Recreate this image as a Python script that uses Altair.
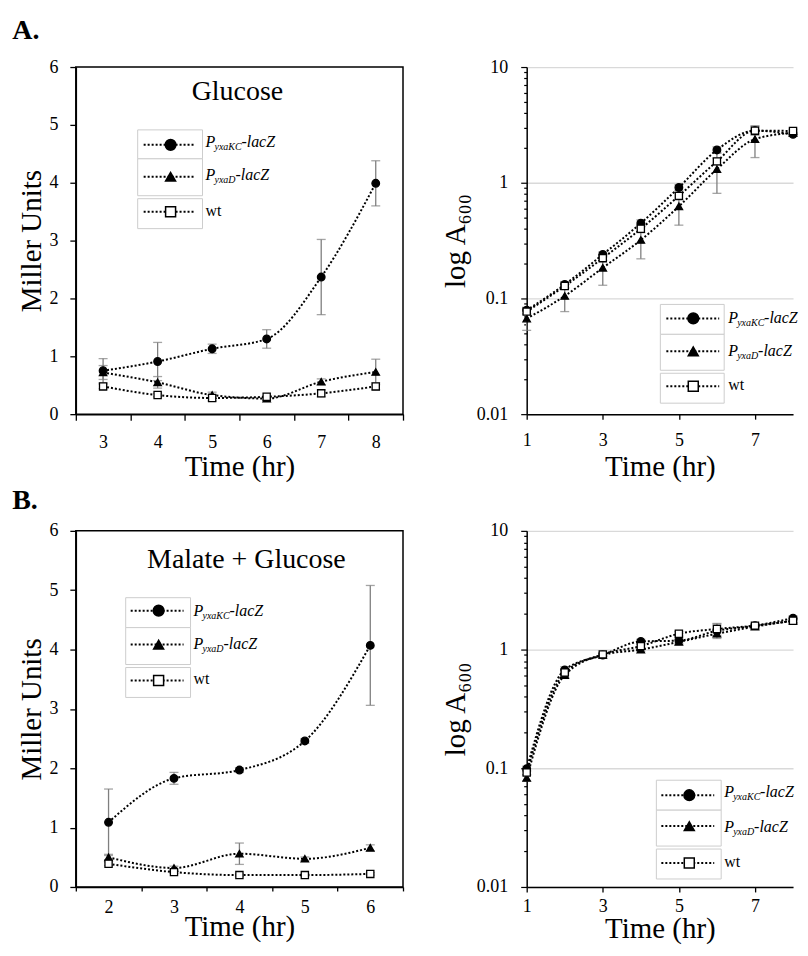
import altair as alt
import pandas as pd

FONT = "Liberation Serif, Times New Roman, serif"
ERR_COLOR = "#7f7f7f"
BOX_COLOR = "#cdcdcd"
GRID_COLOR = "#d9d9d9"

SERIES = ["KC", "D", "wt"]
SHAPES = ["circle", "triangle-up", "square"]
FILLS = ["black", "black", "white"]
SIZES = [58, 52, 55]

# ---------------- data ----------------
# A. Glucose, Miller units
A1_time = [3, 4, 5, 6, 7, 8]
A1_kc = [0.75, 0.91, 1.13, 1.30, 2.37, 3.99]
A1_kc_err = [0.21, 0.33, 0.08, 0.16, 0.65, 0.39]
A1_d = [0.72, 0.55, 0.33, 0.27, 0.56, 0.73]
A1_d_err = [0.12, 0.10, 0.05, 0.03, 0.05, 0.22]
A1_wt = [0.48, 0.33, 0.28, 0.30, 0.36, 0.48]
A1_wt_err = [0.04, 0.03, 0.05, 0.02, 0.06, 0.06]

# A. growth, A600
A2_time = [1, 2, 3, 4, 5, 6, 7, 8]
A2_kc = [0.079, 0.132, 0.24, 0.447, 0.91, 1.92, 2.82, 2.62]
A2_kc_err = [0.005, 0.008, 0.012, 0.03, 0.05, 0.12, 0.15, 0.10]
A2_d = [0.067, 0.105, 0.184, 0.32, 0.625, 1.31, 2.38, 2.70]
A2_d_err = [0.014, 0.028, 0.054, 0.10, 0.195, 0.50, 0.73, 0.10]
A2_wt = [0.077, 0.128, 0.223, 0.40, 0.77, 1.53, 2.82, 2.80]
A2_wt_err = [0.004, 0.006, 0.010, 0.03, 0.06, 0.10, 0.25, 0.10]

# B. Malate + Glucose, Miller units
B1_time = [2, 3, 4, 5, 6]
B1_kc = [1.09, 1.83, 1.97, 2.46, 4.07]
B1_kc_err = [0.56, 0.10, 0.04, 0.04, 1.01]
B1_d = [0.50, 0.32, 0.56, 0.475, 0.66]
B1_d_err = [0.05, 0.03, 0.18, 0.03, 0.05]
B1_wt = [0.39, 0.25, 0.20, 0.20, 0.22]
B1_wt_err = [0.03, 0.02, 0.02, 0.02, 0.02]

# B. growth, A600
B2_time = [1, 2, 3, 4, 5, 6, 7, 8]
B2_kc = [0.099, 0.675, 0.90, 1.17, 1.19, 1.44, 1.59, 1.84]
B2_kc_err = [0.005, 0.04, 0.03, 0.05, 0.06, 0.20, 0.05, 0.08]
B2_d = [0.083, 0.61, 0.90, 1.00, 1.16, 1.36, 1.56, 1.75]
B2_d_err = [0.005, 0.03, 0.03, 0.03, 0.06, 0.08, 0.06, 0.06]
B2_wt = [0.092, 0.64, 0.91, 1.07, 1.36, 1.49, 1.59, 1.75]
B2_wt_err = [0.004, 0.03, 0.03, 0.04, 0.06, 0.17, 0.06, 0.06]

LIN_TICKS = [0, 1, 2, 3, 4, 5, 6]
A1_XTICKS = [2.5, 3, 3.5, 4, 4.5, 5, 5.5, 6, 6.5, 7, 7.5, 8, 8.5]
B1_XTICKS = [1.5, 2, 2.5, 3, 3.5, 4, 4.5, 5, 5.5, 6, 6.5]
RIGHT_XTICKS = [1, 3, 5, 7]
LOG_TICKS = [round(d * k, 6) for d in [0.01, 0.1, 1] for k in range(1, 10)] + [10]

LABELS = {
    "KC": [("P", 16, 0), ("yxaKC", 10, 3), ("-lacZ", 16, 0)],
    "D": [("P", 16, 0), ("yxaD", 10, 3), ("-lacZ", 16, 0)],
    "wt": [("wt", 16, 0)],
}
LABEL_OFFSETS = {"KC": [0, 9, 36], "D": [0, 9, 30], "wt": [0]}


def long_df(times, kc, kce, d, de, wt, wte):
    rows = []
    for name, vals, errs in (("KC", kc, kce), ("D", d, de), ("wt", wt, wte)):
        for t, v, e in zip(times, vals, errs):
            rows.append({"series": name, "time": t, "value": v,
                         "lo": v - e, "hi": v + e})
    return pd.DataFrame(rows)


DUMMY = pd.DataFrame({"d": [0]})


def legend_layers(spec):
    out = []
    bx0, bx1 = spec["box"]
    lx0, lx1 = spec["line"]
    mx, tx = spec["mx"], spec["tx"]
    for (y0, y1, cy, by), s, shp, fil, sz in zip(spec["rows"], SERIES, SHAPES,
                                                 FILLS, [115, 100, 100]):
        out.append(alt.Chart(DUMMY).mark_rect(fill="white", stroke=BOX_COLOR,
                                              strokeWidth=1).encode(
            x=alt.value(bx0), x2=alt.value(bx1), y=alt.value(y0), y2=alt.value(y1)))
        out.append(alt.Chart(DUMMY).mark_rule(color="black", strokeWidth=2,
                                              strokeDash=[2, 2]).encode(
            x=alt.value(lx0), x2=alt.value(lx1), y=alt.value(cy)))
        out.append(alt.Chart(DUMMY).mark_point(shape=shp, fill=fil, stroke="black",
                                               strokeWidth=1.5, opacity=1,
                                               size=sz).encode(
            x=alt.value(mx), y=alt.value(cy)))
        for (txt, fs, dy), off in zip(LABELS[s], LABEL_OFFSETS[s]):
            out.append(alt.Chart(DUMMY).mark_text(
                text=txt, font=FONT, fontSize=fs,
                fontStyle="normal" if s == "wt" else "italic",
                align="left", baseline="alphabetic", color="black").encode(
                x=alt.value(tx + off), y=alt.value(by + dy)))
    return out


def panel(df, xscale, xaxis, yscale, yaxis, width, height, legend,
          title=None, border=False):
    X = alt.X("time:Q", scale=xscale, axis=xaxis)

    def Y(field):
        return alt.Y(f"{field}:Q", scale=yscale, axis=yaxis)

    base = alt.Chart(df)
    layers = [
        base.mark_rule(color=ERR_COLOR, strokeWidth=1.3).encode(
            x=X, y=Y("lo"), y2="hi:Q"),
        base.mark_tick(color=ERR_COLOR, thickness=1.3, size=9,
                       orient="horizontal").encode(x=X, y=Y("lo")),
        base.mark_tick(color=ERR_COLOR, thickness=1.3, size=9,
                       orient="horizontal").encode(x=X, y=Y("hi")),
        base.mark_line(color="black", strokeWidth=2, strokeDash=[2, 2],
                       interpolate="monotone").encode(
            x=X, y=Y("value"), detail="series:N"),
        base.mark_point(opacity=1, stroke="black", strokeWidth=1.3).encode(
            x=X, y=Y("value"),
            shape=alt.Shape("series:N", scale=alt.Scale(domain=SERIES, range=SHAPES),
                            legend=None),
            fill=alt.Fill("series:N", scale=alt.Scale(domain=SERIES, range=FILLS),
                          legend=None),
            size=alt.Size("series:N", scale=alt.Scale(domain=SERIES, range=SIZES),
                          legend=None)),
    ]
    layers += legend_layers(legend)
    if title is not None:
        txt, tx, ty = title
        layers.append(alt.Chart(DUMMY).mark_text(
            text=txt, font=FONT, fontSize=28, align="center",
            baseline="alphabetic", color="black").encode(
            x=alt.value(tx), y=alt.value(ty)))
    ch = alt.layer(*layers).properties(width=width, height=height)
    if border:
        ch = ch.properties(view=alt.ViewBackground(stroke="black", strokeWidth=1.5))
    return ch


HALF_TEST = "datum.value % 1 != 0"
MAJOR_TEST = "datum.value == 0.01 || datum.value == 0.1 || datum.value == 1 || datum.value == 10"

AXIS_STYLE = dict(labelFont=FONT, titleFont=FONT, labelFontSize=18, titleFontSize=29,
                  labelFontWeight="normal", titleFontWeight="normal",
                  labelColor="black", titleColor="black", domainColor="black",
                  tickColor="black", domainWidth=1.5, labelOverlap=False)


def left_xaxis(ticks, pad, tsize, tpad):
    return alt.Axis(values=ticks, title="Time (hr)", tickSize=tsize,
                    tickOpacity={"condition": {"test": HALF_TEST, "value": 1}, "value": 0},
                    labelExpr="datum.value % 1 == 0 ? format(datum.value, 'd') : ''",
                    labelPadding=pad, titlePadding=tpad, titleBaseline="alphabetic",
                    tickWidth=1.3, labelFlush=False, grid=False, **AXIS_STYLE)


def left_yaxis():
    return alt.Axis(values=LIN_TICKS, title="Miller Units", tickSize=6,
                    labelPadding=12, titlePadding=8, titleBaseline="alphabetic",
                    tickWidth=1.3, format="d", grid=False, **AXIS_STYLE)


def right_xaxis(pad, tpad):
    return alt.Axis(values=RIGHT_XTICKS, title="Time (hr)", tickSize=5,
                    labelPadding=pad, titlePadding=tpad, titleBaseline="alphabetic",
                    tickWidth=1.3, labelFlush=False, format="d", grid=False,
                    **AXIS_STYLE)


def right_yaxis():
    return alt.Axis(values=LOG_TICKS, title="log A\u2086\u2080\u2080",
                    tickSize={"condition": {"test": MAJOR_TEST, "value": 6}, "value": 3},
                    labelExpr="datum.value == 0.01 ? '0.01' : datum.value == 0.1 ? '0.1' : datum.value == 1 ? '1' : datum.value == 10 ? '10' : ''",
                    grid=True, gridColor=GRID_COLOR, gridWidth=1.3,
                    gridOpacity={"condition": {"test": MAJOR_TEST, "value": 1}, "value": 0},
                    labelPadding=13, titlePadding=12, titleBaseline="alphabetic",
                    tickWidth=1.2, **AXIS_STYLE)


LEFT_W = 328
RIGHT_W = 267
A_H = 348
B_H = 357

lin_y = alt.Scale(domain=[0, 6], nice=False, zero=True)
log_y = alt.Scale(type="log", domain=[0.01, 10], nice=False)

A1 = panel(long_df(A1_time, A1_kc, A1_kc_err, A1_d, A1_d_err, A1_wt, A1_wt_err),
           alt.Scale(domain=[2.5, 8.5], nice=False, zero=False),
           left_xaxis(A1_XTICKS, 13, 6, 24), lin_y, left_yaxis(), LEFT_W, A_H,
           dict(box=(62, 127), line=(68, 120), mx=95, tx=130,
                rows=[(63, 92, 78, 80), (92, 129, 110, 113), (132, 162, 145, 149)]),
           title=("Glucose", 162, 33), border=True)

A2 = panel(long_df(A2_time, A2_kc, A2_kc_err, A2_d, A2_d_err, A2_wt, A2_wt_err),
           alt.Scale(domain=[1, 8], nice=False, zero=False),
           right_xaxis(12, 26), log_y, right_yaxis(), RIGHT_W, A_H,
           dict(box=(134, 198), line=(140, 193), mx=167, tx=202,
                rows=[(238, 268, 252, 257), (268, 304, 285, 290), (307, 337, 320, 324)]))

B1 = panel(long_df(B1_time, B1_kc, B1_kc_err, B1_d, B1_d_err, B1_wt, B1_wt_err),
           alt.Scale(domain=[1.5, 6.5], nice=False, zero=False),
           left_xaxis(B1_XTICKS, 8, 4, 19), lin_y, left_yaxis(), LEFT_W, B_H,
           dict(box=(50, 115), line=(55, 108), mx=83, tx=118,
                rows=[(67, 97, 80, 85), (97, 134, 114, 118), (137, 167, 150, 154)]),
           title=("Malate + Glucose", 171, 37), border=True)

B2 = panel(long_df(B2_time, B2_kc, B2_kc_err, B2_d, B2_d_err, B2_wt, B2_wt_err),
           alt.Scale(domain=[1, 8], nice=False, zero=False),
           right_xaxis(6, 22), log_y, right_yaxis(), RIGHT_W, B_H,
           dict(box=(130, 195), line=(135, 188), mx=163, tx=198,
                rows=[(250, 280, 265, 267), (280, 316, 296, 302), (319, 349, 333, 337)]))


def row_title(txt, offset):
    return alt.TitleParams(txt, anchor="start", font=FONT, fontSize=28,
                           fontWeight="bold", color="black", offset=offset, dx=-5)


rowA = alt.hconcat(A1, A2, spacing=36, title=row_title("A.", 12))
rowB = alt.hconcat(B1, B2, spacing=36, title=row_title("B.", 6))

chart = alt.vconcat(rowA, rowB, spacing=5).properties(
    padding={"left": 4, "top": 8, "right": 0, "bottom": 0}
).configure_view(strokeWidth=0)

chart.save("out.html", embed_options={"renderer": "svg", "actions": False})
